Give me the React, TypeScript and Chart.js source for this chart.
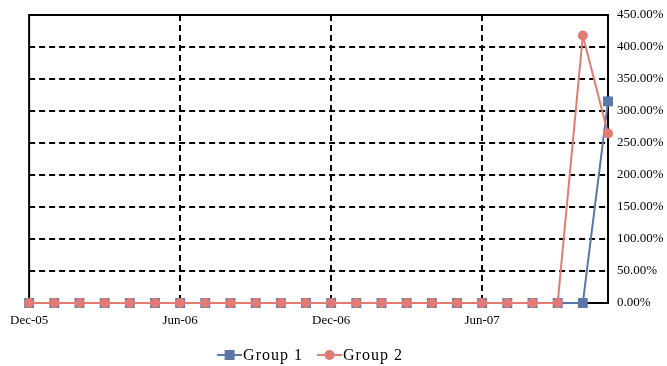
import React, { useEffect, useRef } from "react";
import { Chart, registerables } from "chart.js";

Chart.register(...registerables);

const months: string[] = [
  "Dec-05", "Jan-06", "Feb-06", "Mar-06", "Apr-06", "May-06",
  "Jun-06", "Jul-06", "Aug-06", "Sep-06", "Oct-06", "Nov-06",
  "Dec-06", "Jan-07", "Feb-07", "Mar-07", "Apr-07", "May-07",
  "Jun-07", "Jul-07", "Aug-07", "Sep-07", "Oct-07", "Nov-07",
];

const group1: number[] = [
  0, 0, 0, 0, 0, 0, 0, 0, 0, 0, 0, 0,
  0, 0, 0, 0, 0, 0, 0, 0, 0, 0, 0, 315,
];

const group2: number[] = [
  0, 0, 0, 0, 0, 0, 0, 0, 0, 0, 0, 0,
  0, 0, 0, 0, 0, 0, 0, 0, 0, 0, 418, 265,
];

const seriesNames: string[] = ["Group 1", "Group 2"];
const yMin = 0;
const yMax = 450;
const yStep = 50;
const labelEvery = 6;

const BLUE = "#5A77A7";
const PINK = "#E27B74";
const FONT = "'Liberation Serif', 'Times New Roman', serif";

const framePlugin = {
  id: "frame",
  beforeDatasetsDraw(chart: any) {
    const { ctx, chartArea } = chart;
    ctx.save();
    ctx.strokeStyle = "#000";
    ctx.lineWidth = 2;
    ctx.strokeRect(chartArea.left, chartArea.top, chartArea.right - chartArea.left, chartArea.bottom - chartArea.top);
    ctx.restore();
  },
};

const legendPlugin = {
  id: "customLegend",
  afterDraw(chart: any) {
    const { ctx } = chart;
    const centerX = 310;
    const y = 355;
    const iconW = 25;
    const iconGap = 1;
    const itemGap = 14;
    ctx.save();
    ctx.font = `16px ${FONT}`;
    try {
      (ctx as any).letterSpacing = "1px";
    } catch (e) {}
    ctx.textBaseline = "middle";
    ctx.textAlign = "left";
    const items = chart.data.datasets.map((ds: any, i: number) => ({
      text: ds.label,
      color: ds.borderColor,
      square: i === 0,
      w: ctx.measureText(ds.label).width,
    }));
    const total = items.reduce((s: number, it: any) => s + iconW + iconGap + it.w, 0) + itemGap * (items.length - 1);
    let x = centerX - total / 2;
    for (const it of items) {
      ctx.strokeStyle = it.color;
      ctx.fillStyle = it.color;
      ctx.lineWidth = 2;
      ctx.beginPath();
      ctx.moveTo(x, y);
      ctx.lineTo(x + iconW, y);
      ctx.stroke();
      if (it.square) {
        ctx.fillRect(x + iconW / 2 - 5, y - 5, 10, 10);
      } else {
        ctx.beginPath();
        ctx.arc(x + iconW / 2, y, 5, 0, Math.PI * 2);
        ctx.fill();
      }
      ctx.fillStyle = "#000";
      ctx.fillText(it.text, x + iconW + iconGap, y + 1);
      x += iconW + iconGap + it.w + itemGap;
    }
    ctx.restore();
  },
};

export default function App() {
  const ref = useRef<HTMLCanvasElement | null>(null);

  useEffect(() => {
    document.body.style.margin = "0";
    const chart = new Chart(ref.current!, {
      type: "line",
      data: {
        labels: months,
        datasets: [
          {
            label: seriesNames[0],
            data: group1,
            borderColor: BLUE,
            backgroundColor: BLUE,
            borderWidth: 2,
            pointStyle: "rect",
            pointRadius: 7,
            pointBorderWidth: 0,
            tension: 0,
            clip: false,
            order: 2,
          },
          {
            label: seriesNames[1],
            data: group2,
            borderColor: PINK,
            backgroundColor: PINK,
            borderWidth: 2,
            pointStyle: "circle",
            pointRadius: 5,
            pointBorderWidth: 0,
            tension: 0,
            clip: false,
            order: 1,
          },
        ],
      },
      options: {
        responsive: false,
        animation: false,
        layout: { padding: { left: 28, top: 15, right: 0, bottom: 38 } },
        plugins: {
          tooltip: { enabled: false },
          legend: { display: false },
        },
        scales: {
          x: {
            type: "category",
            offset: false,
            grid: {
              drawTicks: false,
              lineWidth: 2,
              color: (c: any) => (c.index % labelEvery === 0 && c.index !== 0 ? "#000" : "rgba(0,0,0,0)"),
            },
            border: { display: false, dash: [6, 4] },
            ticks: {
              autoSkip: false,
              maxRotation: 0,
              padding: 10,
              color: "#000",
              font: { family: FONT, size: 13 },
              callback: (_v: any, i: number) => (i % labelEvery === 0 ? months[i] : ""),
            },
            afterFit: (s: any) => {
              s.height = 25;
            },
          },
          y: {
            position: "right",
            min: yMin,
            max: yMax,
            grid: {
              drawTicks: true,
              tickLength: 9,
              tickColor: "rgba(0,0,0,0)",
              lineWidth: 2,
              color: "#000",
            },
            border: { display: false, dash: [6, 4] },
            ticks: {
              stepSize: yStep,
              padding: 0,
              color: "#000",
              font: { family: FONT, size: 13 },
              callback: (v: any) => Number(v).toFixed(2) + "%",
            },
            afterFit: (s: any) => {
              s.width = 59;
            },
          },
        },
      },
      plugins: [framePlugin, legendPlugin],
    });
    return () => chart.destroy();
  }, []);

  return (
    <div style={{ position: "absolute", left: 0, top: 0, width: 667, height: 366 }}>
      <canvas ref={ref} width={667} height={366} />
    </div>
  );
}
